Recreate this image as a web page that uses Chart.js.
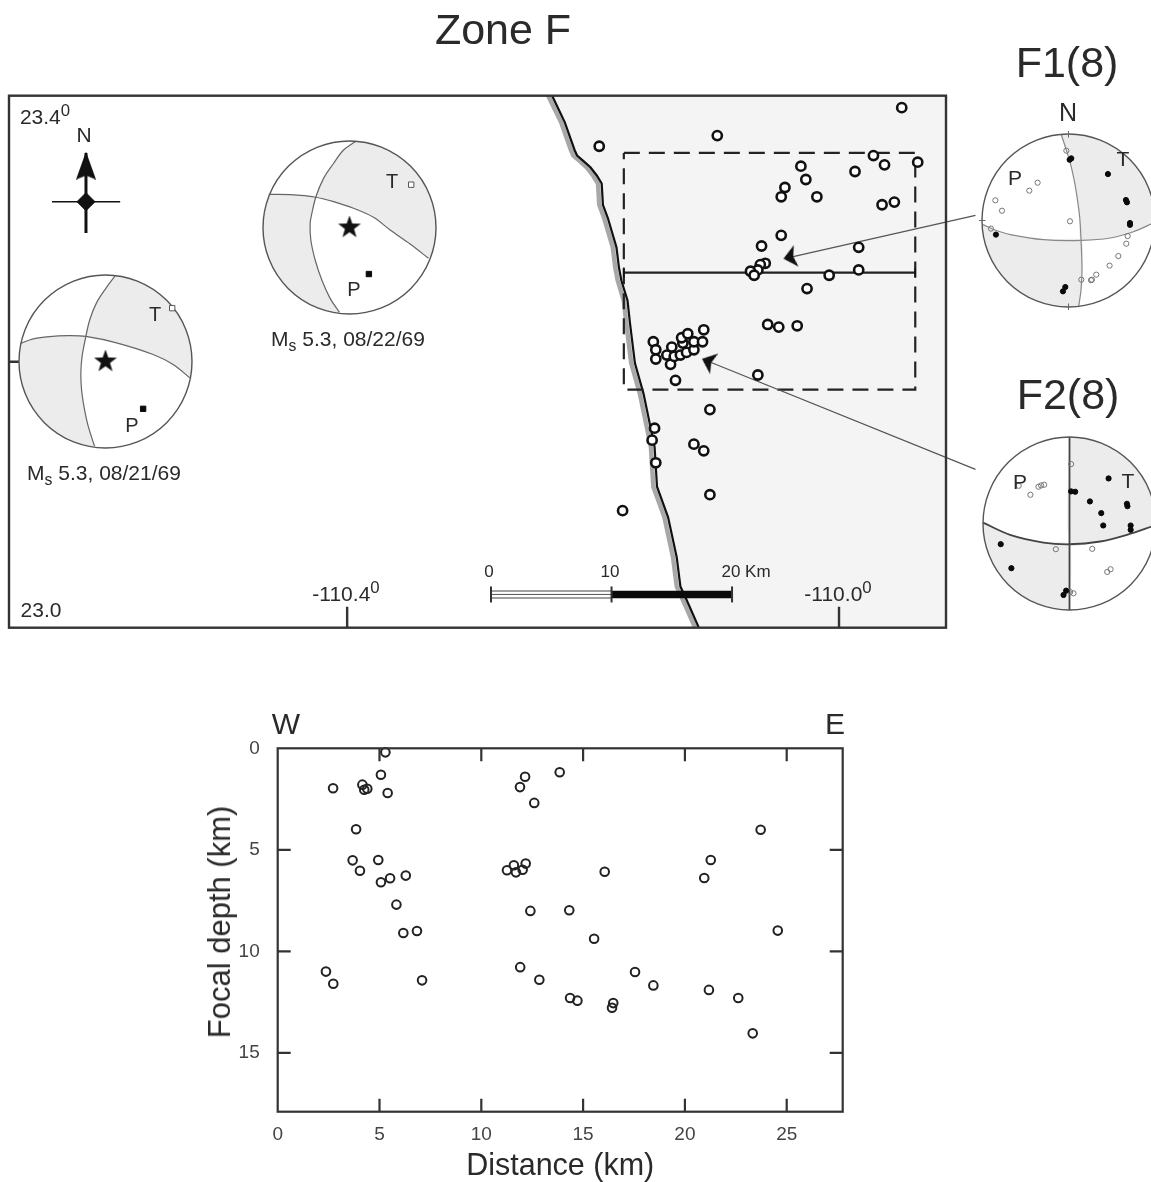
<!DOCTYPE html>
<html>
<head>
<meta charset="utf-8">
<title>Zone F</title>
<script src="https://cdn.jsdelivr.net/npm/chart.js@4/dist/chart.umd.min.js"></script>
<style>
html, body { margin: 0; padding: 0; width: 1151px; height: 1182px; overflow: hidden; background: #fff; }
canvas { position: absolute; }
.t { position: absolute; transform: translate(-50%, -50%); white-space: nowrap; font-family: "Liberation Sans", Arial, sans-serif; color: #2a2a2a; }
.t sup { font-size: 80%; vertical-align: 0.45em; line-height: 0; }
.t sub { font-size: 75%; vertical-align: -0.3em; line-height: 0; }
</style>
</head>
<body>
<canvas id="map-chart" width="1151" height="640" style="left:0;top:0"></canvas>
<canvas id="depth-chart" width="680" height="482" style="left:200px;top:700px"></canvas>
<canvas id="ball-a" width="179" height="179" style="left:16px;top:272px"></canvas>
<canvas id="ball-b" width="179" height="179" style="left:260px;top:138px"></canvas>
<canvas id="ball-f1" width="179" height="179" style="left:979px;top:131px"></canvas>
<canvas id="ball-f2" width="179" height="179" style="left:980px;top:434px"></canvas>

<div class="t" style="left:503px;top:29px;font-size:43px">Zone F</div>
<div class="t" style="left:1067px;top:62px;font-size:43px">F1(8)</div>
<div class="t" style="left:1068px;top:394px;font-size:43px">F2(8)</div>
<div class="t" style="left:1068px;top:112px;font-size:25px">N</div>
<div class="t" style="left:1015px;top:178px;font-size:21px">P</div>
<div class="t" style="left:1123px;top:159px;font-size:21px">T</div>
<div class="t" style="left:1020px;top:482px;font-size:21px">P</div>
<div class="t" style="left:1128px;top:481px;font-size:21px">T</div>

<div class="t" style="left:45px;top:117px;font-size:21px">23.4<sup>0</sup></div>
<div class="t" style="left:41px;top:610px;font-size:21px">23.0</div>
<div class="t" style="left:346px;top:594px;font-size:21px">-110.4<sup>0</sup></div>
<div class="t" style="left:838px;top:594px;font-size:21px">-110.0<sup>0</sup></div>
<div class="t" style="left:84px;top:135px;font-size:21px">N</div>
<div class="t" style="left:155px;top:314px;font-size:20px">T</div>
<div class="t" style="left:132px;top:425px;font-size:20px">P</div>
<div class="t" style="left:392px;top:181px;font-size:20px">T</div>
<div class="t" style="left:354px;top:289px;font-size:20px">P</div>
<div class="t" style="left:104px;top:473px;font-size:21px">M<sub>s</sub> 5.3, 08/21/69</div>
<div class="t" style="left:348px;top:339px;font-size:21px">M<sub>s</sub> 5.3, 08/22/69</div>
<div class="t" style="left:489px;top:572px;font-size:17px">0</div>
<div class="t" style="left:610px;top:572px;font-size:17px">10</div>
<div class="t" style="left:746px;top:572px;font-size:17px">20 Km</div>

<div class="t" style="left:286px;top:724px;font-size:30px">W</div>
<div class="t" style="left:835px;top:724px;font-size:30px">E</div>
<div class="t" style="left:220px;top:922px;font-size:31px;transform:translate(-50%,-50%) rotate(-90deg)">Focal depth (km)</div>

<script>
// epicentres on the map
const quakeLon = [-109.949, -110.099, -110.195, -109.972, -109.963, -109.936, -109.987, -110.031, -110.027, -110.044,
    -110.047, -110.018, -109.965, -109.955, -110.047, -110.063, -109.984, -109.984, -110.008, -110.026,
    -110.060, -110.064, -110.066, -110.072, -110.069, -110.058, -110.049, -110.034, -110.066, -110.133,
    -110.151, -110.149, -110.149, -110.140, -110.136, -110.137, -110.134, -110.129, -110.124, -110.118,
    -110.127, -110.128, -110.123, -110.118, -110.111, -110.110, -110.105, -110.150, -110.152, -110.149,
    -110.118, -110.110, -110.105, -110.176];
const quakeLat = [23.391, 23.370, 23.362, 23.355, 23.348, 23.350, 23.343, 23.347, 23.337, 23.331,
    23.324, 23.324, 23.318, 23.320, 23.295, 23.287, 23.286, 23.269, 23.265, 23.255,
    23.274, 23.273, 23.269, 23.268, 23.265, 23.228, 23.226, 23.227, 23.190, 23.186,
    23.215, 23.209, 23.202, 23.205, 23.211, 23.198, 23.204, 23.205, 23.207, 23.209,
    23.214, 23.218, 23.221, 23.215, 23.215, 23.224, 23.164, 23.150, 23.141, 23.124,
    23.138, 23.133, 23.100, 23.088];

// coastline
const coastLon = [-110.2333, -110.223, -110.215, -110.213, -110.208, -110.202, -110.197, -110.193, -110.192, -110.188, -110.181, -110.179,
    -110.177, -110.172, -110.170, -110.166, -110.159, -110.150, -110.148, -110.139, -110.132, -110.129, -110.124, -110.114];
const coastLat = [23.4, 23.380, 23.359, 23.355, 23.351, 23.346, 23.340, 23.334, 23.318, 23.308, 23.286, 23.271,
    23.261, 23.246, 23.229, 23.199, 23.176, 23.136, 23.106, 23.083, 23.053, 23.031, 23.021, 23.0];
const shoreLon = [-110.2365, -110.226, -110.218, -110.216, -110.211, -110.205, -110.200, -110.196, -110.195, -110.191, -110.184, -110.182,
    -110.180, -110.175, -110.173, -110.169, -110.162, -110.153, -110.151, -110.142, -110.135, -110.132, -110.127, -110.117];

// box, section line, scale bar, north sign
const boxLon = [-110.175, -109.938, -109.938, -110.175, -110.175];
const boxLat = [23.357, 23.357, 23.179, 23.179, 23.357];
const sectionLon = [-110.175, -109.938];
const sectionLat = [23.267, 23.267];
const scaleLon = [-110.283, -110.185, -110.087];
const scaleLat = 23.025;
const lonTicks = [-110.4, -110.0];
const latTicks = [23.2];

// depth section
const distance = [5.29, 5.07, 2.72, 4.16, 4.25, 4.40, 5.40, 3.85, 3.68, 4.04, 4.94, 5.07, 5.52, 6.29, 5.83, 6.17, 6.84, 2.37, 2.73, 7.09,
    12.15, 11.90, 11.26, 11.60, 11.70, 12.03, 12.18, 12.41, 11.91, 13.85, 12.60, 16.06, 14.32, 15.54, 12.85, 14.36, 14.72, 16.48, 16.42,
    17.55, 18.45, 21.18, 22.62, 23.33, 24.56, 23.72, 21.27, 20.95];
const depth = [0.20, 1.30, 1.97, 1.79, 2.04, 1.99, 2.20, 3.99, 5.52, 6.03, 5.50, 6.60, 6.40, 6.27, 7.70, 9.10, 9.00, 11.00, 11.60, 11.43,
    1.40, 1.91, 6.01, 5.76, 6.11, 5.98, 5.68, 8.01, 10.78, 1.18, 2.69, 6.08, 7.98, 9.38, 11.40, 12.30, 12.43, 12.55, 12.78,
    11.02, 11.68, 11.90, 12.30, 14.04, 8.98, 4.01, 5.50, 6.39];
const distanceTicks = [0, 5, 10, 15, 20, 25];
const depthTicks = [0, 5, 10, 15];

// focal mechanisms, unit circle, nodal planes split at their crossing
const ballA = {
    north: [[.108, .986], [.008, .852], [-.104, .678], [-.181, .486], [-.227, .29]],
    south: [[-.227, .29], [-.27, .062], [-.285, -.131], [-.277, -.324], [-.25, -.516], [-.2, -.748], [-.127, -.979]],
    west: [[-.983, .208], [-.836, .262], [-.682, .285], [-.432, .3], [-.227, .29]],
    east: [[-.227, .29], [.127, .216], [.551, .081], [.782, -.035], [.975, -.189]],
    solid: [[.435, -.547]], open: [[.771, .617]], star: true
};
const ballB = {
    north: [[.077, 1], [-.069, .896], [-.185, .74], [-.3, .568], [-.39, .35]],
    south: [[-.39, .35], [-.435, .164], [-.455, .048], [-.447, -.145], [-.397, -.376], [-.32, -.607], [-.224, -.819], [-.116, -.981]],
    west: [[-.933, .383], [-.686, .38], [-.39, .35]],
    east: [[-.39, .35], [-.185, .299], [.046, .222], [.277, .118], [.47, -.029], [.701, -.191], [.913, -.356]],
    solid: [[.224, -.538]], open: [[.713, .495]], star: true
};
const ballF1 = {
    north: [[-.083, .992], [-.03, .83], [.021, .664], [.065, .47], [.098, .279], [.13, .03], [.145, -.23]],
    south: [[.145, -.23], [.156, -.568], [.145, -.8], [.118, -.993]],
    west: [[-.989, -.048], [-.85, -.11], [-.673, -.163], [-.287, -.222], [.145, -.23]],
    east: [[.145, -.23], [.483, -.202], [.75, -.13], [.998, -.02]],
    solid: [[.032, .718], [.013, .703], [.456, .537], [.664, .237], [.676, .21], [.711, -.029], [.711, -.05], [-.839, -.163], [-.037, -.769], [-.064, -.819]],
    circles: [[-.025, .807], [.017, -.009], [-.357, .437], [-.453, .345], [-.846, .233], [-.769, .113], [-.896, -.094], [.684, -.18], [.668, -.268], [.576, -.411], [.475, -.522], [.321, -.626], [.271, -.684], [.26, -.69], [.148, -.684]],
    lineColor: '#888', lineWidth: 1.2, rimTicks: true
};
const ballF2 = {
    north: [[0, 1], [0, -.24]],
    south: [[0, -.24], [0, -1]],
    west: [[-1, .01], [-.687, -.131], [-.301, -.22], [0, -.24]],
    east: [[0, -.24], [.355, -.208], [.664, -.131], [.99, -.02]],
    solid: [[.452, .521], [.019, .371], [.066, .367], [.236, .255], [.367, .12], [.39, -.023], [.664, .228], [.67, .2], [.707, -.023], [.707, -.073], [-.795, -.239], [-.672, -.517], [-.039, -.776], [-.069, -.826]],
    circles: [[.019, .687], [-.587, .436], [-.452, .332], [-.359, .425], [-.328, .44], [-.293, .448], [-.158, -.297], [.263, -.293], [.436, -.56], [.475, -.529], [.046, -.807], [.008, -.792]],
    lineColor: '#444', lineWidth: 1.8
};

Chart.defaults.font.family = '"Liberation Sans", Arial, sans-serif';
Chart.defaults.animation = false;

function xy(xs, ys) {
    return xs.map((x, i) => ({ x: x, y: ys[i] }));
}

function pairs(list) {
    return list.map(p => ({ x: p[0], y: p[1] }));
}

function segment(lons, lats, color, width, extra) {
    return Object.assign({
        data: xy(lons, lats), showLine: true, borderColor: color, borderWidth: width,
        pointRadius: 0, backgroundColor: 'transparent', fill: false, tension: 0
    }, extra || {});
}

function marker(lon, lat, style, radius, rotation, extra) {
    return Object.assign({
        data: [{ x: lon, y: lat }], showLine: false, pointStyle: style, pointRadius: radius,
        pointRotation: rotation, backgroundColor: '#111', borderColor: '#111', borderWidth: 1, clip: false
    }, extra || {});
}

// arrow head pointing up, used as a point style
function arrowHead(w, h, notch) {
    const c = document.createElement('canvas');
    c.width = w;
    c.height = h;
    const g = c.getContext('2d');
    g.fillStyle = '#111';
    g.beginPath();
    g.moveTo(w / 2, 0);
    g.lineTo(w, h);
    g.lineTo(w / 2, h - notch);
    g.lineTo(0, h);
    g.closePath();
    g.fill();
    return c;
}

function starShape(r) {
    const c = document.createElement('canvas');
    c.width = c.height = r * 2;
    const g = c.getContext('2d');
    g.fillStyle = '#111';
    g.beginPath();
    for (let i = 0; i < 10; i++) {
        const d = i % 2 ? r * 0.4 : r;
        const a = -Math.PI / 2 + i * Math.PI / 5;
        g.lineTo(r + d * Math.cos(a), r + d * Math.sin(a));
    }
    g.closePath();
    g.fill();
    return c;
}

// frame and inward ticks, placed through the scales
const frameTicks = {
    id: 'frameTicks',
    afterDraw(chart, args, opts) {
        const { ctx, chartArea: a, scales } = chart;
        ctx.save();
        ctx.strokeStyle = opts.color;
        ctx.lineWidth = opts.width;
        ctx.strokeRect(a.left, a.top, a.right - a.left, a.bottom - a.top);
        ctx.beginPath();
        opts.xTicks.forEach(v => {
            const p = scales.x.getPixelForValue(v);
            ctx.moveTo(p, a.bottom);
            ctx.lineTo(p, a.bottom - opts.xLength);
            if (opts.mirror) {
                ctx.moveTo(p, a.top);
                ctx.lineTo(p, a.top + opts.xLength);
            }
        });
        opts.yTicks.forEach(v => {
            const p = scales.y.getPixelForValue(v);
            ctx.moveTo(a.left, p);
            ctx.lineTo(a.left + opts.yLength, p);
            if (opts.mirror) {
                ctx.moveTo(a.right, p);
                ctx.lineTo(a.right - opts.yLength, p);
            }
        });
        ctx.stroke();
        ctx.restore();
    }
};

// first dataset in the list is painted last
new Chart(document.getElementById('map-chart'), {
    type: 'scatter',
    plugins: [frameTicks],
    data: {
        datasets: [
            {
                data: xy(quakeLon, quakeLat), pointStyle: 'circle', pointRadius: 4.6,
                backgroundColor: '#fff', borderColor: '#111', borderWidth: 2.6, clip: false
            },
            marker(-110.040, 23.2785, arrowHead(22, 13, 3), 8, 257.5),
            marker(-110.1065, 23.2003, arrowHead(22, 13, 3), 8, 292),
            segment([-109.889, -110.040], [23.310, 23.2785], '#555', 1.2, { clip: false }),
            segment([-109.889, -110.1065], [23.119, 23.2003], '#555', 1.2, { clip: false }),
            marker(-110.6124, 23.3203, 'rectRot', 9, 0),
            marker(-110.6124, 23.3475, arrowHead(20, 28, 4), 8, 0),
            segment([-110.6124, -110.6124], [23.357, 23.2968], '#111', 3),
            segment([-110.640, -110.5846], [23.3203, 23.3203], '#111', 1.6),
            marker(scaleLon[0], scaleLat, 'line', 8, 90, { borderWidth: 2, borderColor: '#333' }),
            marker(scaleLon[1], scaleLat, 'line', 8, 90, { borderWidth: 2, borderColor: '#333' }),
            marker(scaleLon[2], scaleLat, 'line', 8, 90, { borderWidth: 2, borderColor: '#333' }),
            segment([scaleLon[1], scaleLon[2]], [scaleLat, scaleLat], '#0a0a0a', 7.5),
            segment([scaleLon[0], scaleLon[1]], [scaleLat, scaleLat], '#555', 1),
            segment([scaleLon[0], scaleLon[1]], [scaleLat, scaleLat], '#fff', 6),
            segment([scaleLon[0], scaleLon[1]], [scaleLat, scaleLat], '#444', 8),
            marker(sectionLon[0], sectionLat[0], 'line', 5, 90, { borderWidth: 1.5 }),
            marker(sectionLon[1], sectionLat[1], 'line', 5, 90, { borderWidth: 1.5 }),
            segment(sectionLon, sectionLat, '#222', 2.2),
            segment(boxLon, boxLat, '#222', 2.2, { borderDash: [16, 9] }),
            segment(coastLon, coastLat, '#111', 2.2),
            segment(shoreLon, coastLat, '#a8a8a8', 4.5),
            {
                data: xy(coastLon.concat([-109.913, -109.913]), coastLat.concat([23.0, 23.4])),
                showLine: true, fill: 'shape', backgroundColor: '#f4f4f4', borderWidth: 0, pointRadius: 0, tension: 0
            }
        ]
    },
    options: {
        responsive: false,
        events: [],
        layout: { autoPadding: false, padding: { left: 9, right: 205, top: 95.7, bottom: 12.3 } },
        plugins: {
            legend: { display: false },
            tooltip: { enabled: false },
            frameTicks: { color: '#333', width: 2.4, xTicks: lonTicks, yTicks: latTicks, xLength: 21, yLength: 11, mirror: false }
        },
        scales: {
            x: { type: 'linear', display: false, min: -110.675, max: -109.913 },
            y: { type: 'linear', display: false, min: 23.0, max: 23.4 }
        }
    }
});

new Chart(document.getElementById('depth-chart'), {
    type: 'scatter',
    plugins: [frameTicks],
    data: {
        datasets: [{
            label: 'Focal depth',
            data: xy(distance, depth),
            pointStyle: 'circle', pointRadius: 4.3, borderWidth: 2,
            borderColor: '#222', backgroundColor: 'transparent', clip: false
        }]
    },
    options: {
        responsive: false,
        events: [],
        layout: { autoPadding: false, padding: { left: 0, right: 37.3, top: 48.3, bottom: 0 } },
        plugins: {
            legend: { display: false },
            tooltip: { enabled: false },
            frameTicks: { color: '#333', width: 2.2, xTicks: distanceTicks.slice(1), yTicks: depthTicks.slice(1), xLength: 13, yLength: 13, mirror: true }
        },
        scales: {
            x: {
                type: 'linear', min: 0, max: 27.75,
                border: { display: false },
                grid: { display: false, drawTicks: false },
                ticks: { padding: 12, color: '#444', font: { size: 19 } },
                title: { display: true, text: 'Distance (km)', color: '#2a2a2a', font: { size: 30.5, lineHeight: 1 }, padding: 0 },
                afterBuildTicks(scale) { scale.ticks = distanceTicks.map(v => ({ value: v })); },
                afterFit(scale) { scale.height = 70.3; }
            },
            y: {
                type: 'linear', reverse: true, min: 0, max: 17.9,
                border: { display: false },
                grid: { display: false, drawTicks: false },
                ticks: { padding: 18, color: '#444', font: { size: 19 } },
                afterBuildTicks(scale) { scale.ticks = depthTicks.map(v => ({ value: v })); },
                afterFit(scale) { scale.width = 77.7; }
            }
        }
    }
});

// points along the rim between two rim points
function rim(from, to, dir) {
    const a = Math.atan2(from[1], from[0]);
    let b = Math.atan2(to[1], to[0]);
    if (dir > 0 && b < a) b += Math.PI * 2;
    if (dir < 0 && b > a) b -= Math.PI * 2;
    const out = [];
    for (let i = 1; i < 24; i++) {
        const t = a + (b - a) * i / 24;
        out.push([Math.cos(t), Math.sin(t)]);
    }
    return out;
}

function drawBall(id, ball) {
    const top = ball.north[0], right = ball.east[ball.east.length - 1];
    const bottom = ball.south[ball.south.length - 1], left = ball.west[0];
    const ne = ball.north.concat(ball.east.slice(1), rim(right, top, 1));
    const sw = ball.west.concat(ball.south.slice(1), rim(bottom, left, -1));
    const color = ball.lineColor || '#666';
    const width = ball.lineWidth || 1.2;
    const plane = list => ({
        data: pairs(list), showLine: true, borderColor: color, borderWidth: width,
        pointRadius: 0, tension: 0.35, fill: false, backgroundColor: 'transparent'
    });
    const shade = list => ({
        data: pairs(list), showLine: true, fill: 'shape', backgroundColor: '#ececec',
        borderWidth: 0, pointRadius: 0, tension: 0.2
    });
    const datasets = [];
    if (ball.star) datasets.push(marker(0, 0, starShape(12), 10, 0));
    datasets.push({
        data: pairs(ball.solid), pointStyle: ball.star ? 'rect' : 'circle', pointRadius: ball.star ? 3.8 : 2.6,
        backgroundColor: '#0a0a0a', borderColor: '#0a0a0a', borderWidth: 1
    });
    if (ball.open) datasets.push({
        data: pairs(ball.open), pointStyle: 'rect', pointRadius: 3.8,
        backgroundColor: '#fff', borderColor: '#555', borderWidth: 1
    });
    if (ball.circles) datasets.push({
        data: pairs(ball.circles), pointStyle: 'circle', pointRadius: 2.6,
        backgroundColor: 'transparent', borderColor: '#777', borderWidth: 1
    });
    if (ball.rimTicks) {
        datasets.push(marker(0, 1, 'line', 3.5, 90, { borderColor: '#666' }));
        datasets.push(marker(0, -1, 'line', 3.5, 90, { borderColor: '#666' }));
        datasets.push(marker(-1, 0, 'line', 3.5, 0, { borderColor: '#666' }));
    }
    datasets.push({
        data: [{ x: 0, y: 0 }], pointStyle: 'circle', pointRadius: 86.5,
        backgroundColor: 'transparent', borderColor: '#555', borderWidth: 1.4, clip: false
    });
    datasets.push(plane(ball.north.concat(ball.south.slice(1))));
    datasets.push(plane(ball.west.concat(ball.east.slice(1))));
    datasets.push(shade(ne));
    datasets.push(shade(sw));
    datasets.push({
        data: [{ x: 0, y: 0 }], pointStyle: 'circle', pointRadius: 86.5,
        backgroundColor: '#fff', borderWidth: 0, clip: false
    });
    new Chart(document.getElementById(id), {
        type: 'scatter',
        data: { datasets: datasets },
        options: {
            responsive: false,
            events: [],
            layout: { autoPadding: false },
            plugins: { legend: { display: false }, tooltip: { enabled: false } },
            scales: {
                x: { type: 'linear', display: false, min: -1.0347, max: 1.0347 },
                y: { type: 'linear', display: false, min: -1.0347, max: 1.0347 }
            }
        }
    });
}

drawBall('ball-a', ballA);
drawBall('ball-b', ballB);
drawBall('ball-f1', ballF1);
drawBall('ball-f2', ballF2);
</script>
</body>
</html>
